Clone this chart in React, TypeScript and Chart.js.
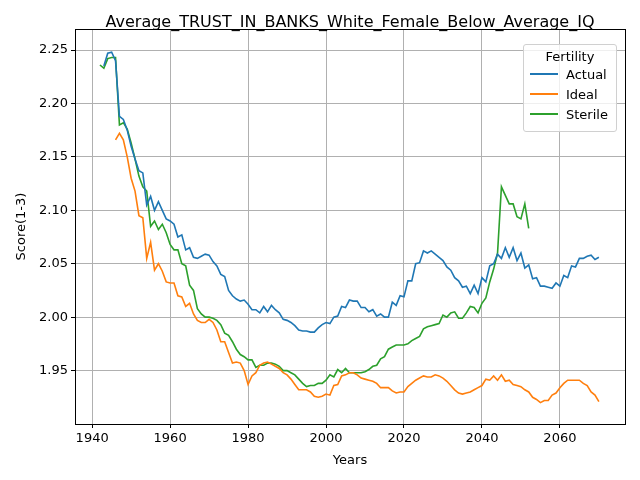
import React, { useEffect, useRef } from "react";
import { Chart, registerables } from "chart.js";
Chart.register(...registerables);

const actualStart = 1943;
const actual = [2.235,2.247,2.248,2.240,2.188,2.185,2.175,2.160,2.148,2.137,2.135,2.105,2.113,2.100,2.108,2.100,2.092,2.090,2.087,2.075,2.077,2.063,2.065,2.056,2.055,2.057,2.059,2.058,2.052,2.048,2.040,2.038,2.025,2.020,2.017,2.015,2.016,2.012,2.007,2.007,2.004,2.010,2.005,2.011,2.007,2.004,1.998,1.997,1.995,1.992,1.988,1.987,1.987,1.986,1.986,1.990,1.993,1.995,1.994,2.000,2.001,2.010,2.009,2.016,2.015,2.015,2.009,2.009,2.005,2.007,2.001,2.003,2.000,2.000,2.014,2.011,2.020,2.019,2.034,2.034,2.050,2.051,2.062,2.060,2.062,2.059,2.056,2.053,2.047,2.044,2.037,2.034,2.028,2.029,2.022,2.030,2.022,2.037,2.033,2.048,2.050,2.059,2.055,2.065,2.056,2.065,2.053,2.060,2.046,2.049,2.036,2.037,2.029,2.029,2.028,2.027,2.032,2.029,2.039,2.037,2.048,2.047,2.055,2.055,2.057,2.058,2.054,2.056];
const idealStart = 1946;
const ideal = [2.166,2.172,2.166,2.150,2.130,2.118,2.095,2.093,2.055,2.070,2.044,2.050,2.043,2.033,2.032,2.032,2.020,2.019,2.010,2.013,2.003,1.997,1.995,1.995,1.998,1.995,1.988,1.977,1.977,1.967,1.957,1.958,1.957,1.950,1.937,1.945,1.948,1.955,1.957,1.958,1.956,1.954,1.952,1.948,1.946,1.942,1.937,1.932,1.932,1.932,1.930,1.926,1.925,1.926,1.928,1.927,1.936,1.937,1.945,1.946,1.948,1.948,1.946,1.943,1.942,1.941,1.940,1.938,1.934,1.934,1.934,1.931,1.929,1.930,1.930,1.935,1.938,1.941,1.943,1.945,1.944,1.944,1.946,1.945,1.943,1.940,1.936,1.932,1.929,1.928,1.929,1.930,1.932,1.934,1.936,1.942,1.941,1.945,1.941,1.946,1.940,1.941,1.937,1.936,1.935,1.932,1.930,1.925,1.923,1.920,1.922,1.922,1.927,1.929,1.934,1.938,1.941,1.941,1.941,1.941,1.938,1.936,1.930,1.927,1.921];
const sterileStart = 1942;
const sterile = [2.236,2.233,2.242,2.243,2.243,2.180,2.182,2.176,2.163,2.148,2.132,2.122,2.118,2.085,2.090,2.082,2.087,2.079,2.068,2.063,2.063,2.050,2.048,2.030,2.025,2.008,2.003,2.000,2.000,1.999,1.997,1.993,1.985,1.983,1.977,1.970,1.965,1.963,1.960,1.960,1.953,1.955,1.955,1.957,1.957,1.956,1.954,1.950,1.950,1.948,1.946,1.942,1.938,1.935,1.936,1.936,1.938,1.938,1.941,1.946,1.944,1.951,1.948,1.952,1.948,1.948,1.948,1.948,1.949,1.951,1.954,1.955,1.961,1.963,1.970,1.972,1.974,1.974,1.974,1.975,1.978,1.980,1.982,1.989,1.991,1.992,1.993,1.994,2.002,2.000,2.004,2.005,1.999,1.999,2.004,2.010,2.009,2.004,2.013,2.018,2.033,2.045,2.060,2.122,2.114,2.106,2.106,2.094,2.092,2.106,2.083];
const xTicks = [1940,1960,1980,2000,2020,2040,2060];
const yTicks = [1.95,2.0,2.05,2.1,2.15,2.2,2.25];

const toPts = (start: number, vals: number[]) => vals.map((y, i) => ({ x: start + i, y }));
const font = "'DejaVu Sans', sans-serif";

export default function App() {
  const ref = useRef<HTMLCanvasElement>(null);
  useEffect(() => {
    const frame = {
      id: "frame",
      afterDraw(c: any) {
        const { left, top, right, bottom } = c.chartArea;
        const ctx = c.ctx;
        ctx.save();
        ctx.strokeStyle = "#000";
        ctx.lineWidth = 1;
        ctx.strokeRect(left + 0.5, top + 0.5, right - left, bottom - top);
        ctx.restore();
      },
    };
    const chart = new Chart(ref.current!, {
      type: "line",
      data: {
        datasets: [
          { label: "Actual", data: toPts(actualStart, actual), borderColor: "#1f77b4" },
          { label: "Ideal", data: toPts(idealStart, ideal), borderColor: "#ff7f0e" },
          { label: "Sterile", data: toPts(sterileStart, sterile), borderColor: "#2ca02c" },
        ].map((d) => ({ ...d, borderWidth: 1.6, pointRadius: 0, tension: 0, fill: false })),
      },
      options: {
        animation: false,
        responsive: false,
        devicePixelRatio: 1,
        layout: { padding: { top: 29, right: 15, left: 14, bottom: 12 } },
        plugins: { legend: { display: false }, title: { display: false }, tooltip: { enabled: false } },
        scales: {
          x: {
            type: "linear",
            min: 1935.6,
            max: 2076.7,
            afterBuildTicks: (s: any) => { s.ticks = xTicks.map((v) => ({ value: v })); },
            afterFit: (s: any) => { s.height = 44; },
            grid: { color: "#b0b0b0", tickColor: "#000", tickLength: 4 },
            border: { display: false },
            ticks: { color: "#000", font: { family: font, size: 13 }, callback: (v: any) => String(v), maxRotation: 0 },
            title: { display: true, text: "Years", color: "#000", font: { family: font, size: 13 }, padding: { top: 0, bottom: 0 } },
          },
          y: {
            type: "linear",
            min: 1.9,
            max: 2.2697,
            afterBuildTicks: (s: any) => { s.ticks = yTicks.map((v) => ({ value: v })); },
            afterFit: (s: any) => { s.width = 61; },
            grid: { color: "#b0b0b0", tickColor: "#000", tickLength: 4 },
            border: { display: false },
            ticks: { color: "#000", font: { family: font, size: 13 }, callback: (v: any) => Number(v).toFixed(2) },
            title: { display: true, text: "Score(1-3)", color: "#000", font: { family: font, size: 13 }, padding: 0 },
          },
        },
      },
      plugins: [frame],
    } as any);
    return () => chart.destroy();
  }, []);

  const items = [
    ["Actual", "#1f77b4"],
    ["Ideal", "#ff7f0e"],
    ["Sterile", "#2ca02c"],
  ];
  return (
    <div style={{ position: "fixed", left: 0, top: 0, width: 640, height: 480, background: "#fff", fontFamily: font }}>
      <canvas ref={ref} width={640} height={480} />
      <div style={{ position: "absolute", left: 75, width: 550, top: 11, textAlign: "center", fontSize: 16, lineHeight: "22px", color: "#000" }}>
        Average_TRUST_IN_BANKS_White_Female_Below_Average_IQ
      </div>
      <div style={{ position: "absolute", left: 523, top: 44, width: 94, height: 88, border: "1px solid #d0d0d0", borderRadius: 3, background: "rgba(255,255,255,0.8)", fontSize: 13, color: "#000", boxSizing: "border-box" }}>
        <div style={{ textAlign: "center", marginTop: 4 }}>Fertility</div>
        {items.map(([n, c]) => (
          <div key={n} style={{ display: "flex", alignItems: "center", height: 20, marginLeft: 6 }}>
            <div style={{ width: 28, height: 2, background: c, marginRight: 8 }} />
            <span>{n}</span>
          </div>
        ))}
      </div>
    </div>
  );
}
